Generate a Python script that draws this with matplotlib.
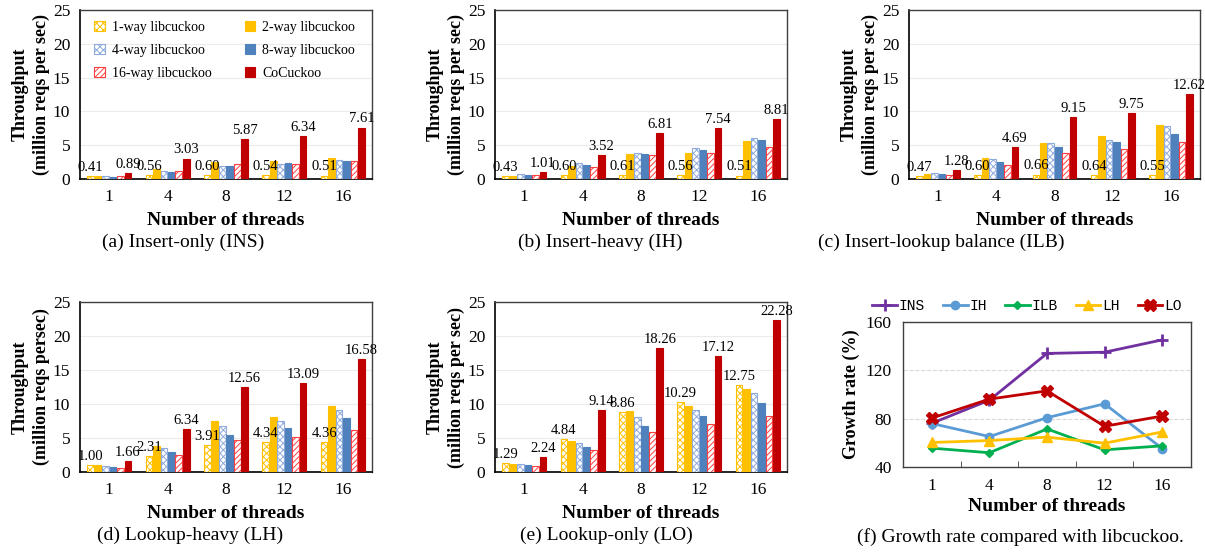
import numpy as np
import matplotlib.pyplot as plt

plt.rcParams['font.family'] = ['Liberation Serif', 'DejaVu Serif']
plt.rcParams['hatch.linewidth'] = 0.7

# ---- data ----
threads = ['1', '4', '8', '12', '16']
series_names = ['1-way libcuckoo', '2-way libcuckoo', '4-way libcuckoo',
                '8-way libcuckoo', '16-way libcuckoo', 'CoCuckoo']

# rows: 1-way, 2-way, 4-way, 8-way, 16-way, CoCuckoo ; cols: threads
ins_vals = [
    [0.41, 0.56, 0.60, 0.54, 0.51],
    [0.44, 1.50, 2.50, 2.70, 3.10],
    [0.42, 1.22, 1.90, 2.25, 2.80],
    [0.32, 1.08, 1.92, 2.30, 2.65],
    [0.40, 1.18, 2.20, 2.20, 2.65],
    [0.89, 3.03, 5.87, 6.34, 7.61],
]
ih_vals = [
    [0.43, 0.60, 0.61, 0.56, 0.51],
    [0.50, 1.85, 3.70, 3.90, 5.60],
    [0.69, 2.35, 3.90, 4.65, 6.10],
    [0.55, 2.10, 3.70, 4.25, 5.70],
    [0.55, 1.80, 3.50, 3.80, 4.70],
    [1.01, 3.52, 6.81, 7.54, 8.81],
]
ilb_vals = [
    [0.47, 0.60, 0.66, 0.64, 0.55],
    [0.79, 3.10, 5.30, 6.35, 8.00],
    [0.89, 2.95, 5.30, 5.75, 7.80],
    [0.69, 2.50, 4.70, 5.50, 6.70],
    [0.60, 2.07, 3.85, 4.50, 5.45],
    [1.28, 4.69, 9.15, 9.75, 12.62],
]
lh_vals = [
    [1.00, 2.31, 3.91, 4.34, 4.36],
    [0.98, 3.85, 7.55, 8.10, 9.75],
    [0.90, 3.55, 6.80, 7.55, 9.15],
    [0.75, 2.95, 5.45, 6.50, 7.95],
    [0.65, 2.45, 4.70, 5.10, 6.20],
    [1.66, 6.34, 12.56, 13.09, 16.58],
]
lo_vals = [
    [1.29, 4.84, 8.86, 10.29, 12.75],
    [1.23, 4.58, 8.90, 9.75, 12.20],
    [1.18, 4.24, 8.10, 9.15, 11.60],
    [1.03, 3.75, 6.80, 8.18, 10.20],
    [0.90, 3.25, 5.90, 7.00, 8.28],
    [2.24, 9.14, 18.26, 17.12, 22.28],
]

growth_names = ['INS', 'IH', 'ILB', 'LH', 'LO']
growth_ins = [76.2, 95.3, 134.0, 135.0, 145.2]
growth_ih = [76.0, 65.2, 80.8, 92.3, 55.3]
growth_ilb = [55.6, 51.8, 71.5, 54.2, 57.5]
growth_lh = [60.3, 61.9, 64.7, 59.7, 69.0]
growth_lo = [80.5, 96.2, 103.0, 73.7, 82.2]

# ---- styles ----
bar_styles = [
    dict(facecolor='white', edgecolor='#FFC000', hatch='xxxxx'),
    dict(facecolor='#FFC000', edgecolor='#FFC000'),
    dict(facecolor='white', edgecolor='#8FAADC', hatch='xxxxx'),
    dict(facecolor='#4F81BD', edgecolor='#4F81BD'),
    dict(facecolor='white', edgecolor='#FF4040', hatch='//////'),
    dict(facecolor='#C00000', edgecolor='#C00000'),
]
line_styles = [
    dict(color='#7030A0', marker='+', markersize=9, markeredgewidth=2),
    dict(color='#5B9BD5', marker='o', markersize=6),
    dict(color='#00B050', marker='D', markersize=4.5),
    dict(color='#FFC000', marker='^', markersize=6.5),
    dict(color='#C00000', marker='X', markersize=8),
]

W, H = 1205, 556
fig = plt.figure(figsize=(W / 100, H / 100), dpi=100)


def px_axes(x0, y0, x1, y1):
    return fig.add_axes([x0 / W, 1 - y1 / H, (x1 - x0) / W, (y1 - y0) / H])


def style_frame(ax):
    for s in ['top', 'right']:
        ax.spines[s].set_color('#404040')
        ax.spines[s].set_linewidth(1.0)
    for s in ['left', 'bottom']:
        ax.spines[s].set_color('black')
        ax.spines[s].set_linewidth(1.2)


def bar_panel(ax, vals, ylab):
    x = np.arange(len(threads))
    n = len(vals)
    step = 0.128
    for i, v in enumerate(vals):
        off = (i - (n - 1) / 2) * step
        bars = ax.bar(x + off, v, width=0.114, label=series_names[i],
                      linewidth=0.8, zorder=3, **bar_styles[i])
        if i in (0, n - 1):
            for b, val in zip(bars, v):
                ax.annotate(f'{val:.2f}', (b.get_x() + b.get_width() / 2, b.get_height()),
                            xytext=(0, 1.5), textcoords='offset points',
                            ha='center', va='bottom', fontsize=10.5, zorder=5)
    ax.set_xlim(-0.5, len(threads) - 0.5)
    ax.set_ylim(0, 25)
    ax.set_yticks(np.arange(0, 26, 5))
    ax.set_xticks(x)
    ax.set_xticklabels(threads)
    ax.tick_params(axis='both', length=0, labelsize=12.5, pad=7)
    ax.grid(axis='y', color='#EBEBEB', linewidth=0.8, zorder=0)
    ax.set_axisbelow(True)
    ax.set_xlabel('Number of threads', fontsize=14, fontweight='bold', labelpad=5)
    ax.set_ylabel(ylab, fontsize=13, fontweight='bold', labelpad=2, linespacing=1.3)
    style_frame(ax)


ax_a = px_axes(80, 10, 372, 179)
ax_b = px_axes(495, 10, 787, 179)
ax_c = px_axes(909, 10, 1200, 179)
ax_d = px_axes(80, 302, 372, 472)
ax_e = px_axes(495, 302, 787, 472)
ax_f = px_axes(903, 322, 1191, 467)

bar_panel(ax_a, ins_vals, 'Throughput\n(million reqs per sec)')
bar_panel(ax_b, ih_vals, 'Throughput\n(million reqs per sec)')
bar_panel(ax_c, ilb_vals, 'Throughput\n(million reqs per sec)')
bar_panel(ax_d, lh_vals, 'Throughput\n(million reqs persec)')
bar_panel(ax_e, lo_vals, 'Throughput\n(million reqs per sec)')

# legend filled row by row: reorder handles for column-major layout
h, l = ax_a.get_legend_handles_labels()
order = [0, 2, 4, 1, 3, 5]
ax_a.legend([h[k] for k in order], [l[k] for k in order],
            loc='upper left', bbox_to_anchor=(0.03, 0.97), ncol=2, frameon=False,
            fontsize=10, handlelength=0.75, handleheight=0.75, handletextpad=0.5,
            columnspacing=2.4, labelspacing=0.72, borderaxespad=0)

# growth rate panel
xg = np.arange(len(threads))
for name, vals, st in zip(growth_names,
                          [growth_ins, growth_ih, growth_ilb, growth_lh, growth_lo],
                          line_styles):
    ax_f.plot(xg, vals, linewidth=2, label=name, zorder=3, **st)
ax_f.set_xlim(-0.5, len(threads) - 0.5)
ax_f.set_ylim(40, 160)
ax_f.set_yticks([40, 80, 120, 160])
ax_f.set_xticks(xg)
ax_f.set_xticklabels(threads)
ax_f.set_xticks(xg[:-1] + 0.5, minor=True)
ax_f.tick_params(axis='both', which='major', length=0, labelsize=12.5, pad=8)
ax_f.tick_params(axis='x', which='minor', direction='in', length=4, color='#404040')
ax_f.grid(axis='y', color='#D9D9D9', linestyle='--', linewidth=0.8, zorder=0)
ax_f.set_xlabel('Number of threads', fontsize=14, fontweight='bold', labelpad=3)
ax_f.set_ylabel('Growth rate (%)', fontsize=13, fontweight='bold', labelpad=4)
for s in ax_f.spines.values():
    s.set_color('#404040')
    s.set_linewidth(1.0)
ax_f.legend(loc='center', bbox_to_anchor=(0.43, 1.11), ncol=5, frameon=False,
            prop={'family': 'Liberation Mono', 'size': 10.5}, handlelength=1.7,
            handletextpad=0.1, columnspacing=1.25, borderaxespad=0)

# captions
captions = [
    (183, 242, '(a) Insert-only (INS)'),
    (600, 242, '(b) Insert-heavy (IH)'),
    (941, 242, '(c) Insert-lookup balance (ILB)'),
    (190, 535, '(d) Lookup-heavy (LH)'),
    (606, 535, '(e) Lookup-only (LO)'),
    (1020, 537, '(f) Growth rate compared with libcuckoo.'),
]
for cx, cy, txt in captions:
    fig.text(cx / W, 1 - cy / H, txt, ha='center', va='center', fontsize=14)

fig.savefig('out.png', dpi=100)
